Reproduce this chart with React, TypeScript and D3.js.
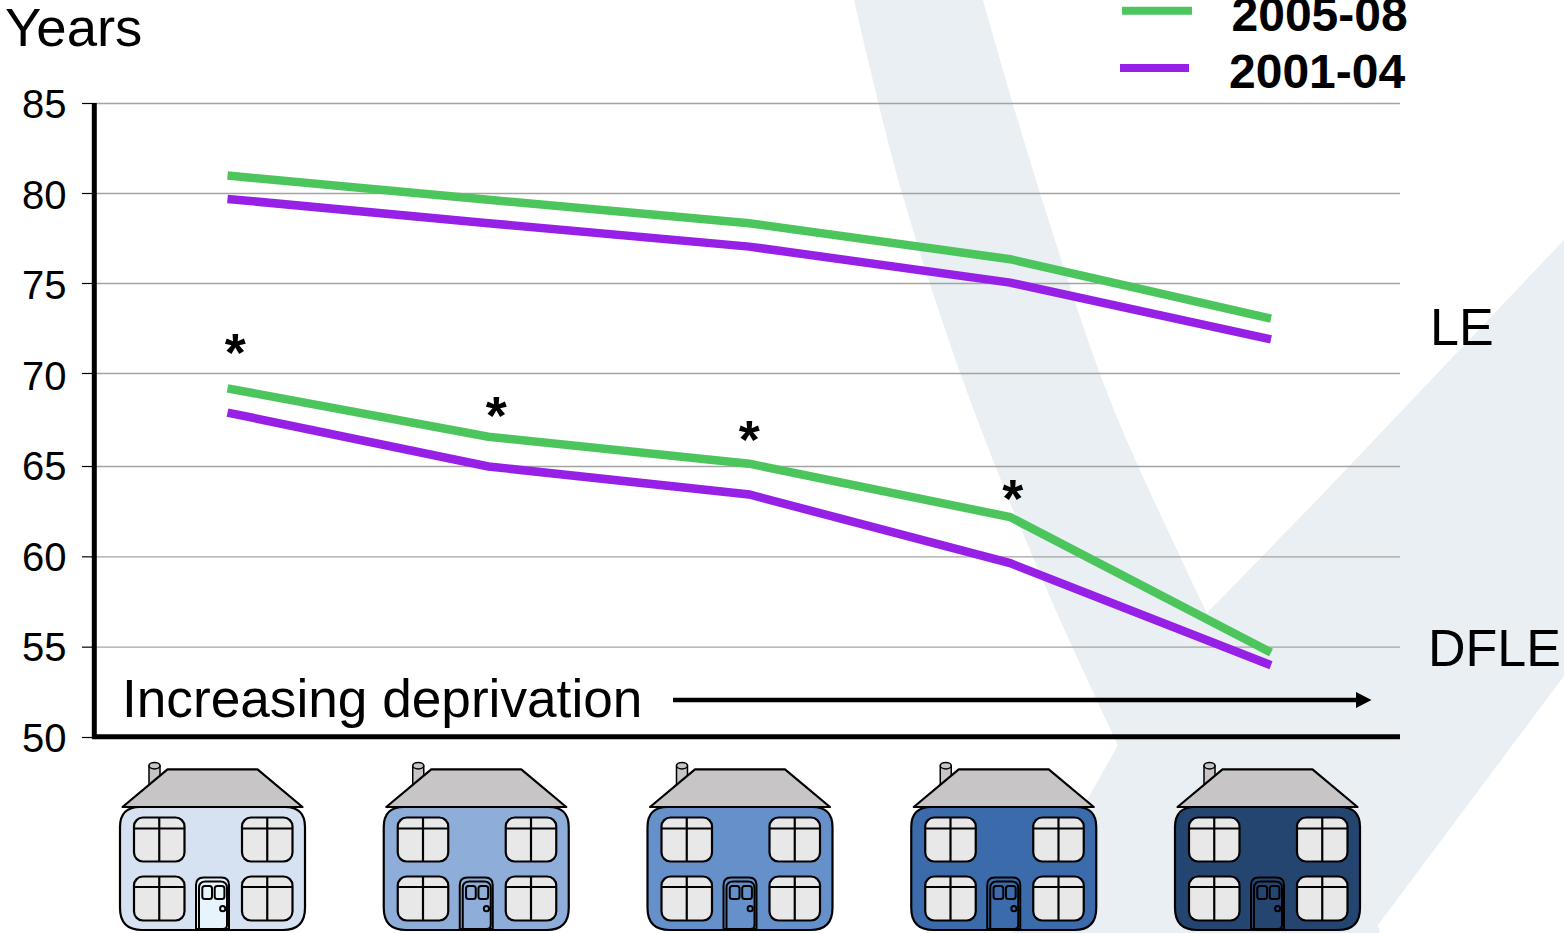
import React from "react";
import * as d3 from "d3";

const W = 1564;
const H = 933;
const FONT = "'Liberation Sans', Arial, sans-serif";

// Deprivation groups, least to most deprived
const groups = [0, 1, 2, 3, 4];
const tickValues = [50, 55, 60, 65, 70, 75, 80, 85];

// Life expectancy and disability-free life expectancy, in years
const le2005 = [81.0, 79.65, 78.35, 76.35, 73.05];
const le2001 = [79.7, 78.35, 77.05, 75.05, 71.9];
const dfle2005 = [69.2, 66.6, 65.15, 62.2, 54.7];
const dfle2001 = [67.9, 65.0, 63.45, 59.65, 54.0];

// Significance markers: group position and height on the years scale
const starGroups = [0.03, 1.03, 2.0, 3.01];
const starLevels = [71.4, 68.0, 66.7, 63.5];

const houseFills = ["#d6e2f1", "#8eadd8", "#6590c9", "#3b6bab", "#254571"];
const doorFills = ["#e8f4fc", "#8eadd8", "#6590c9", "#3b6bab", "#254571"];

const GREEN = "#4cc65c";
const PURPLE = "#9720e6";
const WASH = "#e9eff3";

const y = d3.scaleLinear().domain([50, 65, 70, 85]).range([737.5, 466.5, 373.5, 103.5]);
const labelBaseline = d3.scaleLinear().domain([50, 85]).range([752, 118.3]);
const x = d3.scaleLinear().domain([0, 4]).range([227.5, 1271]);
const houseX = d3.scaleLinear().domain([0, 4]).range([120, 1175]);

const seriesPath = d3
  .line<number>()
  .x((_, i) => x(i))
  .y((v) => y(v))
  .curve(d3.curveLinear);

// Curved band of the watermark behind the plot
const bandEdge = d3.line<number[]>().curve(d3.curveCatmullRom.alpha(0.5));
const leftEdge = [[854, 0], [902, 193], [970, 400], [1050, 597], [1118, 745]];
const rightEdge = [[1207, 613], [1177, 550], [1110, 400], [1040, 193], [983, 0]];
const sweepBand = `${bandEdge(leftEdge)}L${bandEdge(rightEdge)!.slice(1)}Z`;
const diagonalBand = "M1564,240L1317,500L1207,613L1118,745L1012,933L1380,933L1378,925L1564,676Z";

function Window({ wx, wy, w, h, bar }: { wx: number; wy: number; w: number; h: number; bar: number }) {
  const mid = wx + w / 2;
  return (
    <g stroke="#000" strokeWidth={2.2} fill="none">
      <rect x={wx} y={wy} width={w} height={h} rx={9} fill="#e8e8e8" />
      <line x1={wx} x2={wx + w} y1={wy + bar} y2={wy + bar} />
      <line x1={mid} x2={mid} y1={wy} y2={wy + h} />
    </g>
  );
}

function House({ index }: { index: number }) {
  const ox = houseX(index);
  return (
    <g transform={`translate(${ox},0)`}>
      {/* chimney */}
      <path d="M29,766V790H40V766Z" fill="#c8c5c6" stroke="#000" strokeWidth={1.5} />
      <ellipse cx={34.5} cy={765.7} rx={5.5} ry={3.2} fill="#c8c5c6" stroke="#000" strokeWidth={1.5} />
      {/* body */}
      <path
        d="M0,827Q0,807 20,807H165Q185,807 185,827V908Q185,930 163,930H22Q0,930 0,908Z"
        fill={houseFills[index]}
        stroke="#000"
        strokeWidth={2.2}
      />
      {/* roof */}
      <path d="M2.5,807L47.5,769.3H137.5L182.5,807Z" fill="#c8c5c6" stroke="#000" strokeWidth={2.2} strokeLinejoin="round" />
      <Window wx={14} wy={817.5} w={50.5} h={44} bar={11} />
      <Window wx={122} wy={817.5} w={50.5} h={44} bar={11} />
      <Window wx={14} wy={876.5} w={50.5} h={44} bar={10.5} />
      <Window wx={122} wy={876.5} w={50.5} h={44} bar={10.5} />
      {/* door */}
      <g stroke="#000" strokeWidth={2}>
        <path d="M76,929V885Q76,877.5 83.5,877.5H101.5Q109,877.5 109,885V929Z" fill={doorFills[index]} />
        <path d="M79,929V888Q79,881.5 85.5,881.5H100.5Q107,881.5 107,888V925Q107,929 103,929Z" fill={doorFills[index]} />
        <rect x={82.3} y={886} width={9.7} height={13} rx={2.5} fill={doorFills[index]} />
        <rect x={94.7} y={886} width={9.7} height={13} rx={2.5} fill={doorFills[index]} />
        <circle cx={102.7} cy={908.7} r={2.6} fill={doorFills[index]} />
      </g>
    </g>
  );
}

export default function App() {
  const lines = [
    { values: le2005, color: GREEN },
    { values: le2001, color: PURPLE },
    { values: dfle2005, color: GREEN },
    { values: dfle2001, color: PURPLE },
  ];
  return (
    <svg
      width={W}
      height={H}
      viewBox={`0 0 ${W} ${H}`}
      style={{ position: "absolute", left: 0, top: 0, display: "block", background: "#fff" }}
      fontFamily={FONT}
    >
      <path d={diagonalBand} fill={WASH} />
      <path d={sweepBand} fill={WASH} />

      {tickValues.map((t) => (
        <g key={t}>
          {t > 50 && <line x1={94} x2={1400} y1={y(t)} y2={y(t)} stroke="#a3a3a3" strokeWidth={1.3} />}
          <line x1={82} x2={94} y1={y(t)} y2={y(t)} stroke="#000" strokeWidth={1.2} />
          <text x={66.5} y={labelBaseline(t)} textAnchor="end" fontSize={40} fill="#000">
            {t}
          </text>
        </g>
      ))}

      <line x1={94.3} x2={94.3} y1={103} y2={739} stroke="#000" strokeWidth={5} />
      <line x1={92} x2={1400} y1={736.8} y2={736.8} stroke="#000" strokeWidth={5} />

      {lines.map((s, i) => (
        <path key={i} d={seriesPath(s.values)!} fill="none" stroke={s.color} strokeWidth={8.5} strokeLinejoin="miter" />
      ))}

      {starGroups.map((g, i) => (
        <text key={g} x={x(g)} y={y(starLevels[i]) + 23} textAnchor="middle" fontSize={54} fontWeight={700} fill="#000">
          *
        </text>
      ))}

      <text x={5} y={45.5} fontSize={54.5} fill="#000">Years</text>
      <text x={1430} y={345} fontSize={52} fill="#000">LE</text>
      <text x={1428} y={666} fontSize={52} fill="#000">DFLE</text>
      <text x={122} y={716.5} fontSize={53.2} fill="#000">Increasing deprivation</text>

      <line x1={673} x2={1358} y1={700} y2={700} stroke="#000" strokeWidth={4.5} />
      <path d="M1356,692L1371.5,700L1356,708Z" fill="#000" />

      <line x1={1122} x2={1192} y1={10.8} y2={10.8} stroke={GREEN} strokeWidth={8} />
      <line x1={1120} x2={1189} y1={68} y2={68} stroke={PURPLE} strokeWidth={8} />
      <text x={1231.5} y={31} fontSize={48} fontWeight={700} fill="#000">2005-08</text>
      <text x={1229} y={88} fontSize={48} fontWeight={700} fill="#000">2001-04</text>

      {groups.map((g) => (
        <House key={g} index={g} />
      ))}
    </svg>
  );
}
